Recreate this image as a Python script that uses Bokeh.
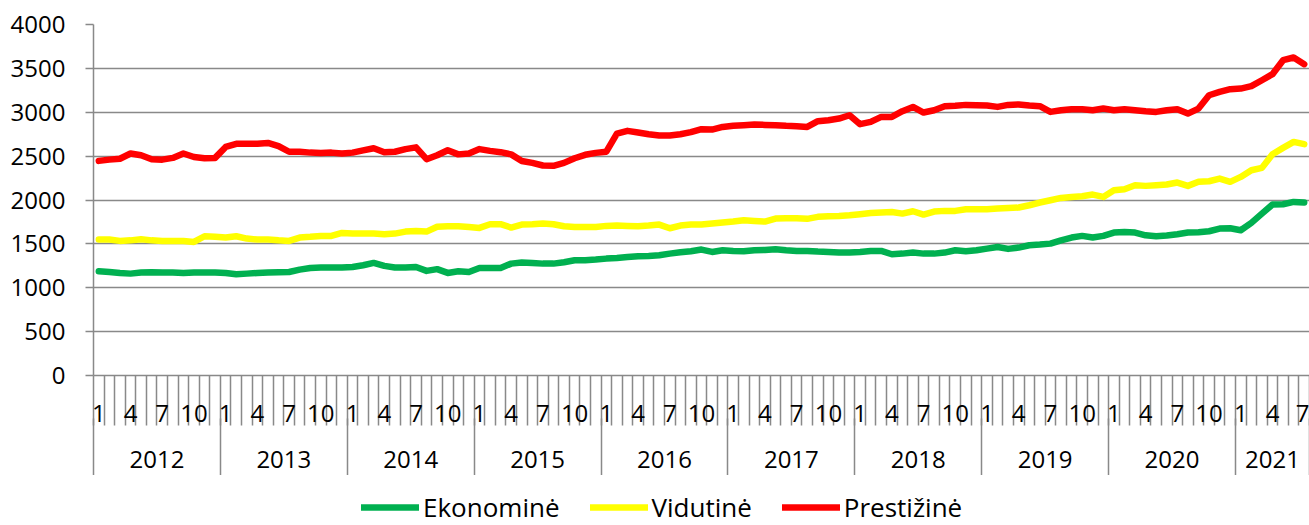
from bokeh.plotting import figure
from bokeh.layouts import column
from bokeh.models import Range1d, FixedTicker, LinearAxis, Legend, LegendItem
from bokeh.embed import file_html
from bokeh.resources import INLINE

# ---------------- data ----------------
years = [2012, 2013, 2014, 2015, 2016, 2017, 2018, 2019, 2020, 2021]
months_per_year = [12, 12, 12, 12, 12, 12, 12, 12, 12, 7]
labelled_months = [1, 4, 7, 10]
y_ticks = [0, 500, 1000, 1500, 2000, 2500, 3000, 3500, 4000]

ekonomine = [
    1188, 1180, 1169, 1161, 1173, 1177, 1173, 1173, 1169, 1173, 1173, 1173,
    1169, 1154, 1161, 1169, 1173, 1177, 1180, 1207, 1226, 1230, 1230, 1230,
    1237, 1256, 1283, 1249, 1230, 1230, 1237, 1192, 1212, 1169, 1188, 1180,
    1226, 1226, 1226, 1275, 1287, 1283, 1275, 1275, 1291, 1313, 1313, 1321,
    1332, 1340, 1351, 1359, 1363, 1370, 1389, 1404, 1416, 1435, 1408, 1427,
    1420, 1416, 1427, 1431, 1439, 1427, 1420, 1420, 1412, 1408, 1401, 1401,
    1408, 1418, 1420, 1382, 1389, 1401, 1389, 1389, 1401, 1427, 1416, 1427,
    1446, 1465, 1443, 1458, 1484, 1492, 1503, 1541, 1572, 1591, 1572, 1591,
    1629, 1636, 1629, 1598, 1587, 1595, 1610, 1629, 1633, 1644, 1674, 1678,
    1655, 1739, 1845, 1948, 1952, 1978, 1971,
]
vidutine = [
    1549, 1549, 1534, 1540, 1553, 1540, 1534, 1534, 1534, 1522, 1587, 1580,
    1572, 1587, 1560, 1549, 1549, 1540, 1534, 1572, 1580, 1591, 1591, 1625,
    1617, 1617, 1617, 1610, 1617, 1640, 1648, 1640, 1695, 1701, 1701, 1693,
    1682, 1724, 1724, 1686, 1720, 1724, 1731, 1724, 1701, 1693, 1693, 1693,
    1705, 1709, 1705, 1701, 1709, 1720, 1678, 1709, 1720, 1720, 1731, 1743,
    1754, 1769, 1762, 1754, 1788, 1792, 1792, 1785, 1808, 1815, 1819, 1826,
    1838, 1851, 1857, 1864, 1845, 1872, 1834, 1868, 1876, 1876, 1895, 1895,
    1895, 1902, 1910, 1914, 1940, 1971, 1997, 2024, 2035, 2043, 2062, 2035,
    2111, 2123, 2168, 2161, 2168, 2176, 2199, 2161, 2207, 2214, 2244, 2207,
    2263, 2339, 2366, 2522, 2594, 2662, 2636,
]
prestizine = [
    2446, 2460, 2470, 2530, 2510, 2465, 2460, 2480, 2530, 2490, 2475, 2480,
    2605, 2640, 2640, 2640, 2650, 2615, 2550, 2550, 2540, 2537, 2540, 2530,
    2540, 2565, 2590, 2545, 2550, 2580, 2600, 2465, 2510, 2567, 2520, 2530,
    2580, 2560, 2545, 2520, 2445, 2423, 2393, 2390, 2423, 2476, 2515, 2537,
    2550, 2757, 2788, 2770, 2750, 2735, 2735, 2750, 2773, 2807, 2803, 2833,
    2845, 2852, 2860, 2856, 2852, 2845, 2841, 2833, 2898, 2909, 2928, 2966,
    2864, 2890, 2947, 2947, 3012, 3061, 2997, 3023, 3069, 3073, 3084, 3080,
    3076, 3061, 3084, 3088, 3076, 3069, 3004, 3023, 3035, 3035, 3023, 3042,
    3023, 3035, 3023, 3012, 3004, 3023, 3035, 2985, 3042, 3194, 3232, 3263,
    3270, 3297, 3365, 3434, 3593, 3624, 3548,
]
series_names = ["Ekonominė", "Vidutinė", "Prestižinė"]
series_colors = ["#00B050", "#FFFF00", "#FF0000"]

# ---------------- derived positions ----------------
n = len(ekonomine)
x = list(range(n))
month_numbers = [m for cnt in months_per_year for m in range(1, cnt + 1)]
all_series = [ekonomine, vidutine, prestizine]

FONT = "Open Sans"
GRAY = "#898989"

p = figure(width=1309, height=475,
           x_range=Range1d(-0.5, n - 0.5), y_range=Range1d(0, 4000),
           output_backend="svg", toolbar_location=None,
           min_border_left=93, min_border_right=0, min_border_top=24,
           min_border_bottom=100)
p.outline_line_color = None
p.background_fill_color = "white"
p.border_fill_color = "white"

# y axis & grid
ya = p.yaxis[0]
ya.ticker = FixedTicker(ticks=y_ticks)
ya.axis_line_color = GRAY
ya.axis_line_width = 1.5
ya.major_tick_line_color = GRAY
ya.major_tick_line_width = 1.5
ya.major_tick_out = 8
ya.major_tick_in = 0
ya.minor_tick_line_color = None
ya.major_label_standoff = 20
ya.major_label_text_font = FONT
ya.major_label_text_font_size = "24px"
ya.major_label_text_color = "#000000"
p.ygrid.ticker = FixedTicker(ticks=y_ticks)
p.ygrid.grid_line_color = GRAY
p.ygrid.grid_line_width = 1.5
p.xgrid.grid_line_color = None

# month axis
month_label_pos = [i for i in x if month_numbers[i] in labelled_months]
boundaries = [i - 0.5 for i in range(n + 1)]
xa = p.xaxis[0]
xa.ticker = FixedTicker(ticks=month_label_pos, minor_ticks=boundaries)
xa.major_label_overrides = {i: str(month_numbers[i]) for i in month_label_pos}
xa.axis_line_color = GRAY
xa.axis_line_width = 1.5
xa.major_tick_out = 0
xa.major_tick_in = 0
xa.major_tick_line_color = None
xa.minor_tick_out = 50
xa.minor_tick_in = 0
xa.minor_tick_line_color = GRAY
xa.minor_tick_line_width = 1.5
xa.major_label_standoff = -21
xa.major_label_text_font = FONT
xa.major_label_text_font_size = "24px"
xa.major_label_text_color = "#000000"

# year axis
year_bounds = [-0.5]
for cnt in months_per_year:
    year_bounds.append(year_bounds[-1] + cnt)
year_centers = [(a + b) / 2 for a, b in zip(year_bounds[:-1], year_bounds[1:])]
ya2 = LinearAxis(ticker=FixedTicker(ticks=year_centers, minor_ticks=year_bounds))
ya2.major_label_overrides = {c: str(y) for c, y in zip(year_centers, years)}
ya2.axis_line_color = None
ya2.major_tick_line_color = None
ya2.major_tick_out = 0
ya2.major_tick_in = 0
ya2.minor_tick_line_color = GRAY
ya2.minor_tick_line_width = 1.5
ya2.minor_tick_in = 6
ya2.minor_tick_out = 52
ya2.major_label_standoff = -26
ya2.major_label_text_font = FONT
ya2.major_label_text_font_size = "24px"
ya2.major_label_text_color = "#000000"
p.add_layout(ya2, "below")

# lines
for vals, col in zip(all_series, series_colors):
    p.line(x, vals, line_color=col, line_width=6.5, line_cap="round", line_join="round")

# legend strip (separate figure; its lines fall outside its range, only the legend shows)
pl = figure(width=1309, height=50, x_range=Range1d(0, 1), y_range=Range1d(0, 1),
            output_backend="svg", toolbar_location=None,
            x_axis_location=None, y_axis_location=None,
            min_border_left=0, min_border_right=0, min_border_top=0, min_border_bottom=0)
pl.outline_line_color = None
pl.xgrid.grid_line_color = None
pl.ygrid.grid_line_color = None
leg_renderers = []
for vals, col in zip(all_series, series_colors):
    leg_renderers.append(pl.line(x, vals, line_color=col, line_width=6.5, line_cap="round"))

legend = Legend(items=[LegendItem(label=nm, renderers=[r]) for nm, r in zip(series_names, leg_renderers)],
                orientation="horizontal", location=(268, 0),
                glyph_width=58, glyph_height=20, label_standoff=4, spacing=30,
                padding=0, margin=0, border_line_color=None, background_fill_alpha=0,
                label_text_font=FONT, label_text_font_size="26px", label_text_color="#000000")
pl.add_layout(legend)

layout = column(p, pl, spacing=0)
open("out.html", "w").write(file_html(layout, INLINE))
